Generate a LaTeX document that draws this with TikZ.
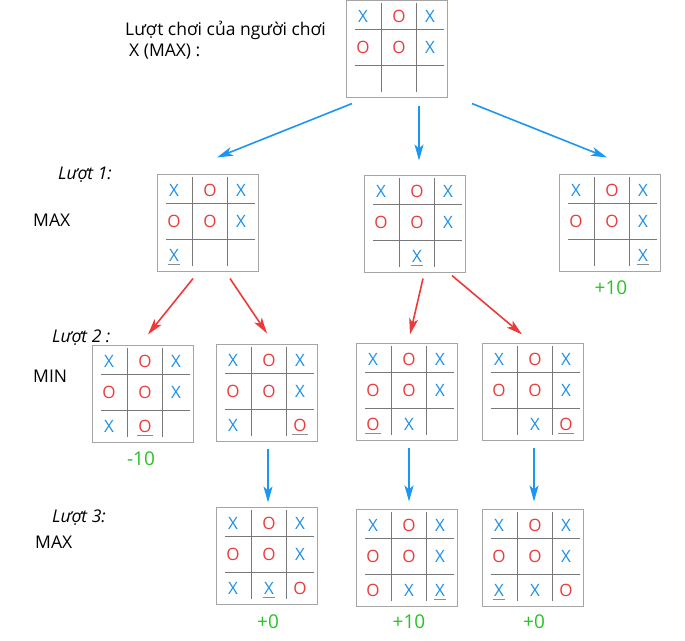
\documentclass[tikz,border=0pt]{standalone}
\usepackage{fontspec}
\setmainfont{Open Sans}
\usetikzlibrary{arrows.meta}

\definecolor{xblue}{RGB}{30,144,232}
\definecolor{ored}{RGB}{232,62,62}
\definecolor{arrblue}{RGB}{28,150,240}
\definecolor{arrred}{RGB}{236,58,58}
\definecolor{vgreen}{RGB}{36,196,36}
\definecolor{boxgray}{RGB}{165,165,165}
\definecolor{gridgray}{RGB}{120,120,120}
\definecolor{ulgray}{RGB}{140,140,140}

% cell symbols
\newcommand\symx{\textcolor{xblue}{X}}
\newcommand\symo{\textcolor{ored}{O}}
\newcommand\symn{}
\newcommand\symu[2]{\setbox0\hbox{\textcolor{#1}{#2}}\rlap{\usebox0}\kern-1.5pt\textcolor{ulgray}{\rule[-3.5pt]{\dimexpr\wd0+3pt}{1pt}}\kern-1.5pt}
\newcommand\symxu{\symu{xblue}{X}}
\newcommand\symou{\symu{ored}{O}}

\tikzset{
  board/.style={draw=boxgray, line width=1.1pt, minimum width=101pt, minimum height=97pt, inner sep=0pt},
  gridline/.style={draw=gridgray, line width=0.8pt},
  cell/.style={inner sep=0pt, anchor=base, font=\fontsize{17}{17}\selectfont},
  lbl/.style={inner sep=0pt, anchor=base west, font=\fontsize{17.5}{20}\selectfont},
  turn/.style={lbl, font=\fontsize{17.5}{20}\selectfont\itshape},
  score/.style={inner sep=0pt, anchor=base, text=vgreen, font=\fontsize{19}{20}\selectfont},
  tree blue/.style={draw=arrblue, line width=1.6pt, -{Stealth[length=16pt,width=9pt,inset=4pt]}},
  tree red/.style={draw=arrred, line width=1.6pt, -{Stealth[length=16pt,width=9pt,inset=4pt]}}
}

% board: name, centre, bottom row
\newcommand\tttboard[5]{%
  \node[board] (#1) at (#2) {};
  \foreach \gx in {-16,19}
    \draw[gridline] ([shift={(\gx,-46)}]#1.center) -- ++(0,89);
  \foreach \gy in {-20,16}
    \draw[gridline] ([shift={(-42,\gy)}]#1.center) -- ++(89,0);
  \foreach \s [count=\i from 0] in {\symx,\symo,\symx,\symo,\symo,\symx,#3,#4,#5}{
    \pgfmathsetmacro\colx{{-34,2,33}[int(mod(\i,3))]}
    \pgfmathsetmacro\rowy{{-27,4,38}[int(div(\i,3))]}
    \node[cell] (#1-\i) at ([shift={(\colx,\rowy)}]#1.center) {\s};
  }
}

\begin{document}
\begin{tikzpicture}[x=1pt, y=-1pt]
	\useasboundingbox (0,0) rectangle (685,640);
	% labels
	\node[lbl] (title1) at (125,35) {Lượt chơi của người chơi};
	\node[lbl] (title2) at (129,56) {X (MAX) :};
	\node[turn] (turn1) at (58,179) {Lượt 1:};
	\node[lbl] (who1) at (33,226) {MAX};
	\node[turn] (turn2) at (52,342) {Lượt 2 :};
	\node[lbl] (who2) at (33,382) {MIN};
	\node[turn] (turn3) at (52,522) {Lượt 3:};
	\node[lbl] (who3) at (35,548) {MAX};
	% boards
	\tttboard{top}{397,49}{\symn}{\symn}{\symn}
	\tttboard{l1a}{208,223}{\symxu}{\symn}{\symn}
	\tttboard{l1b}{415,224}{\symn}{\symxu}{\symn}
	\tttboard{l1c}{610,223}{\symn}{\symn}{\symxu}
	\tttboard{l2a}{143,394}{\symx}{\symou}{\symn}
	\tttboard{l2b}{267,393}{\symx}{\symn}{\symou}
	\tttboard{l2c}{407,392}{\symou}{\symx}{\symn}
	\tttboard{l2d}{533,392}{\symn}{\symx}{\symou}
	\tttboard{l3a}{267,556}{\symx}{\symxu}{\symo}
	\tttboard{l3b}{407,558}{\symo}{\symx}{\symxu}
	\tttboard{l3c}{533,558}{\symxu}{\symx}{\symo}
	% scores
	\node[score] (v1c) at (611,294) {+10};
	\node[score] (v2a) at (141,465) {-10};
	\node[score] (v3a) at (268,628) {+0};
	\node[score] (v3b) at (409,628) {+10};
	\node[score] (v3c) at (534,628) {+0};
	% moves
	\draw[tree blue] ([xshift=-45pt,yshift=-5.5pt]top.south) -- ([xshift=9pt,yshift=16.5pt]l1a.north);
	\draw[tree blue] ([xshift=22pt,yshift=-7.5pt]top.south) -- ([xshift=4pt,yshift=14.5pt]l1b.north);
	\draw[tree blue] ([xshift=75pt,yshift=-5.5pt]top.south) -- ([xshift=-3pt,yshift=16.5pt]l1c.north);
	\draw[tree red] ([xshift=-15pt,yshift=-6.5pt]l1a.south) -- ([xshift=5pt,yshift=10.5pt]l2a.north);
	\draw[tree red] ([xshift=22pt,yshift=-6.5pt]l1a.south) -- ([yshift=10.5pt]l2b.north);
	\draw[tree red] ([xshift=8pt,yshift=-5.5pt]l1b.south) -- ([xshift=3pt,yshift=8.5pt]l2c.north);
	\draw[tree red] ([xshift=37pt,yshift=-2.5pt]l1b.south) -- ([xshift=-11pt,yshift=8.5pt]l2d.north);
	\draw[tree blue] ([xshift=1pt,yshift=-6.5pt]l2b.south) -- ([xshift=1pt,yshift=4.5pt]l3a.north);
	\draw[tree blue] ([xshift=2pt,yshift=-6.5pt]l2c.south) -- ([xshift=2pt,yshift=7.5pt]l3b.north);
	\draw[tree blue] ([xshift=1pt,yshift=-6.5pt]l2d.south) -- ([xshift=1pt,yshift=7.5pt]l3c.north);
\end{tikzpicture}
\end{document}
